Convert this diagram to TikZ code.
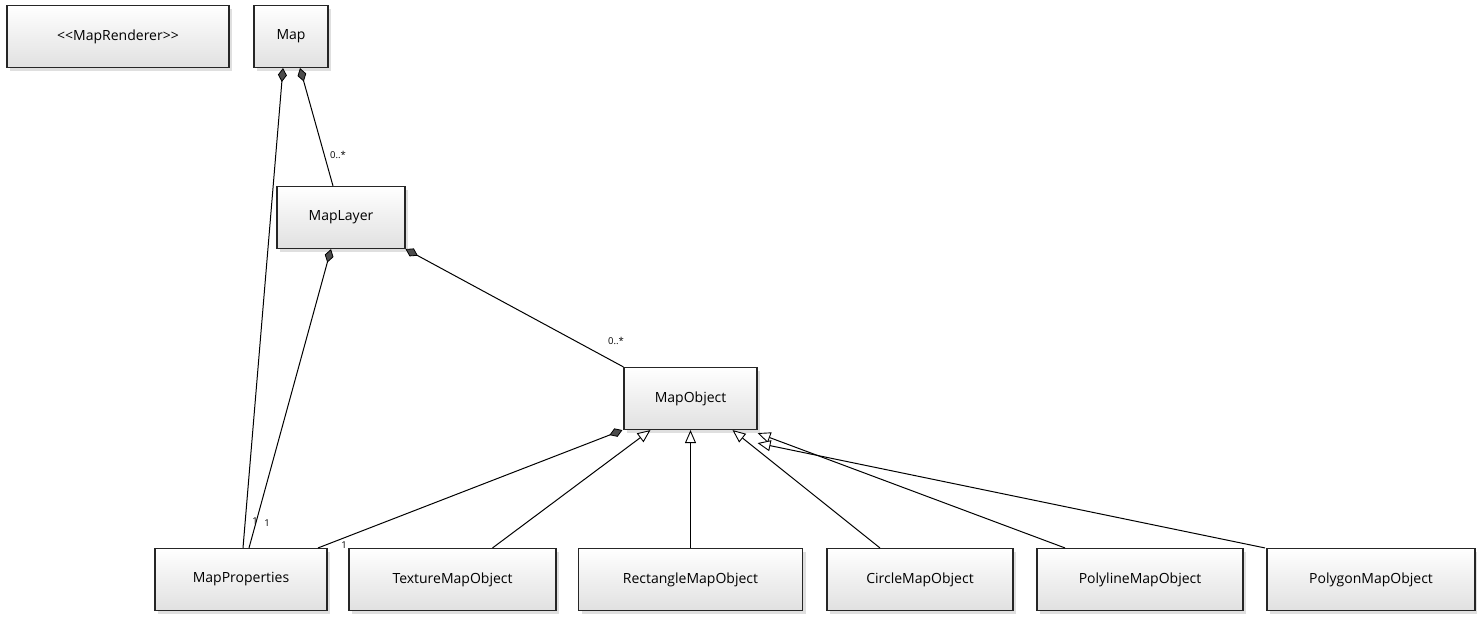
\documentclass[tikz,border=0pt]{standalone}
\usepackage{fontspec}
\setmainfont{Open Sans}
\usetikzlibrary{arrows.meta,shadows}
\begin{document}
\begin{tikzpicture}[x=1pt,y=-1pt,
  cls/.style={draw=black!85,line width=1.1pt,rectangle,minimum height=62pt,
    top color=white,bottom color=black!12,
    drop shadow={shadow xshift=3pt,shadow yshift=-3pt,opacity=0.25},
    font=\fontsize{14}{16}\selectfont,inner sep=0pt},
  conn/.style={draw=black,line width=1pt},
  comp/.style={conn,{Diamond[length=14pt,width=9pt,fill=black!70,line width=0.8pt]}-},
  inh/.style={conn,-{Triangle[open,length=13pt,width=11pt,fill=white,line width=0.9pt]}},
  mult/.style={font=\fontsize{9.5}{11}\selectfont,inner sep=1pt}]
\useasboundingbox (0,0) rectangle (1477,616);
\node[cls,minimum width=222pt] (renderer) at (118,36.5) {<\kern0pt<MapRenderer>\kern0pt>};
\node[cls,minimum width=74pt] (map) at (291,36.5) {Map};
\node[cls,minimum width=128pt] (layer) at (341,217.5) {MapLayer};
\node[cls,minimum width=133pt] (object) at (690.5,398.5) {MapObject};
\node[cls,minimum width=172pt] (props) at (241,579.5) {MapProperties};
\node[cls,minimum width=207pt] (texture) at (452.5,579.5) {TextureMapObject};
\node[cls,minimum width=224pt] (rect) at (690.5,579.5) {RectangleMapObject};
\node[cls,minimum width=186pt] (circle) at (920,579.5) {CircleMapObject};
\node[cls,minimum width=206pt] (polyline) at (1140,579.5) {PolylineMapObject};
\node[cls,minimum width=208pt] (polygon) at (1371,579.5) {PolygonMapObject};
% compositions
\draw[comp] ([xshift=-8pt]map.south) -- ([xshift=2pt]props.north);
\draw[comp] ([xshift=9pt]map.south) -- ([xshift=-8pt]layer.north);
\draw[comp] ([xshift=-10pt]layer.south) -- ([xshift=8pt]props.north);
\draw[comp] (layer.south east) -- (object.north west);
\draw[comp] ([xshift=-1pt]object.south west) -- ([xshift=77pt]props.north);
% inheritance
\draw[inh] ([xshift=40pt]texture.north) -- ([xshift=-40pt]object.south);
\draw[inh] (rect.north) -- (object.south);
\draw[inh] ([xshift=-40pt]circle.north) -- ([xshift=42pt]object.south);
\draw[inh] ([xshift=-75pt]polyline.north) -- ([yshift=-3pt]object.south east);
\draw[inh] ([xshift=-106pt]polygon.north) -- ([yshift=-13pt]object.south east);
% multiplicities
\node[mult] (m1) at (338,155) {0..*};
\node[mult] (m2) at (616,341) {0..*};
\node[mult] (m3) at (255,521) {1};
\node[mult] (m4) at (267,523) {1};
\node[mult] (m5) at (344,545) {1};
\end{tikzpicture}
\end{document}
